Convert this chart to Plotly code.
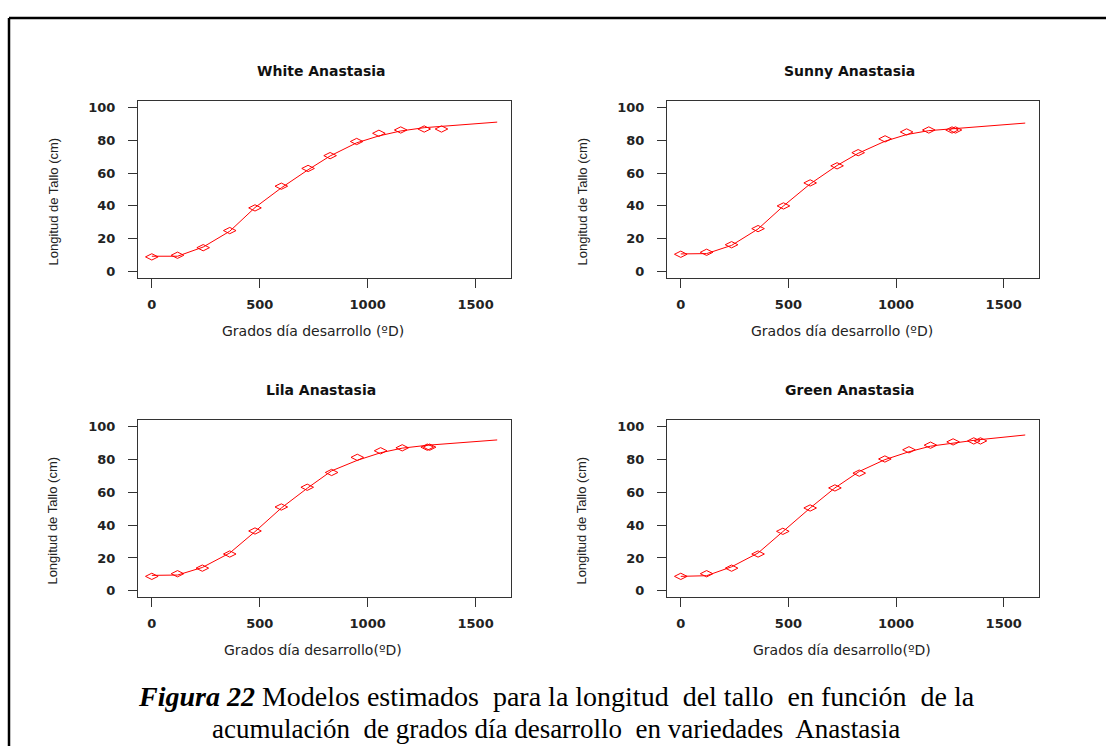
import plotly.graph_objects as go

# ---------------- data ----------------
panel_titles = ["White Anastasia", "Sunny Anastasia", "Lila Anastasia", "Green Anastasia"]
x_titles = ["Grados día desarrollo (ºD)", "Grados día desarrollo (ºD)",
            "Grados día desarrollo(ºD)", "Grados día desarrollo(ºD)"]
y_title = "Longitud de Tallo (cm)"

white_x = [0, 119, 238, 361, 478, 600, 724, 826, 949, 1052, 1153, 1262, 1342]
white_y = [9.0, 10.0, 14.6, 25.0, 38.8, 52.0, 62.8, 70.6, 79.2, 84.2, 86.2, 86.8, 86.8]
white_cx = [0, 119, 238, 361, 478, 600, 724, 826, 949, 1052, 1153, 1262, 1342, 1600]
white_cy = [9.4, 9.4, 15.0, 24.6, 39.0, 51.0, 62.0, 70.4, 78.4, 82.6, 85.6, 87.6, 88.4, 91.0]

sunny_x = [0, 120, 236, 359, 477, 601, 726, 824, 949, 1049, 1152, 1260, 1276]
sunny_y = [10.6, 11.8, 16.4, 26.2, 40.0, 54.0, 64.4, 72.4, 80.8, 85.0, 86.2, 86.2, 86.2]
sunny_cx = [0, 120, 236, 359, 477, 601, 726, 824, 949, 1049, 1152, 1270, 1600]
sunny_cy = [10.8, 11.0, 16.0, 26.0, 40.0, 53.4, 64.6, 72.0, 79.4, 83.4, 85.8, 87.0, 90.4]

lila_x = [0, 119, 234, 361, 478, 600, 720, 833, 952, 1060, 1160, 1276, 1287]
lila_y = [8.8, 10.4, 13.8, 22.4, 36.4, 51.0, 63.0, 72.0, 81.2, 85.2, 87.0, 87.4, 87.4]
lila_cx = [0, 119, 234, 361, 478, 600, 720, 833, 952, 1060, 1160, 1280, 1600]
lila_cy = [9.4, 9.6, 14.2, 23.0, 36.0, 50.4, 62.4, 73.0, 79.4, 84.0, 86.8, 88.6, 91.8]

green_x = [0, 120, 236, 359, 474, 601, 716, 829, 948, 1060, 1160, 1265, 1361, 1392]
green_y = [8.8, 10.4, 13.8, 22.4, 36.2, 50.4, 62.6, 71.6, 80.2, 85.8, 88.6, 90.6, 91.2, 91.2]
green_cx = [0, 120, 236, 359, 474, 601, 716, 829, 948, 1060, 1160, 1265, 1376, 1600]
green_cy = [8.8, 9.2, 14.6, 23.0, 36.0, 50.4, 62.6, 72.6, 79.8, 84.6, 88.0, 90.0, 91.8, 94.8]

x_ticks = [0, 500, 1000, 1500]
y_ticks = [0, 20, 40, 60, 80, 100]

caption_1 = "<b><i>Figura 22</i></b> Modelos estimados  para la longitud  del tallo  en función  de la"
caption_2 = "acumulación  de grados día desarrollo  en variedades  Anastasia"

# ---------------- figure ----------------
W, H = 1106, 746
series = [(white_x, white_y, white_cx, white_cy),
          (sunny_x, sunny_y, sunny_cx, sunny_cy),
          (lila_x, lila_y, lila_cx, lila_cy),
          (green_x, green_y, green_cx, green_cy)]

# pixel boxes of panels: (left, right, top, bottom)
boxes = [(138, 511, 100, 278), (667, 1039, 100, 278),
         (138, 511, 420, 598), (667, 1039, 420, 598)]

fig = go.Figure()
red = "#FF0000"
tick_font = dict(family="DejaVu Sans", size=13, color="#222222", weight="bold")

annotations = []
for i, ((px, py, cx, cy), (l, r, t, b)) in enumerate(zip(series, boxes)):
    n = i + 1
    xa = "x" if n == 1 else f"x{n}"
    ya = "y" if n == 1 else f"y{n}"
    fig.add_trace(go.Scatter(x=cx, y=cy, mode="lines", line=dict(color=red, width=1),
                             xaxis=xa, yaxis=ya, showlegend=False, hoverinfo="skip"))
    fig.add_trace(go.Scatter(x=px, y=py, mode="markers",
                             marker=dict(symbol="diamond-wide-open", size=9,
                                         color=red, line=dict(color=red, width=1)),
                             xaxis=xa, yaxis=ya, showlegend=False))
    xkey = "xaxis" if n == 1 else f"xaxis{n}"
    ykey = "yaxis" if n == 1 else f"yaxis{n}"
    fig.update_layout(**{
        xkey: dict(domain=[l / W, r / W], anchor=ya, range=[-64, 1664],
                   tickvals=x_ticks, ticks="outside", ticklen=9, tickwidth=1,
                   tickcolor="#333333", showline=True, mirror=True,
                   linecolor="#333333", linewidth=1, showgrid=False, zeroline=False,
                   tickfont=tick_font, ticklabelstandoff=5),
        ykey: dict(domain=[1 - b / H, 1 - t / H], anchor=xa, range=[-4, 104],
                   tickvals=y_ticks, ticks="outside", ticklen=9, tickwidth=1,
                   tickcolor="#333333", showline=True, mirror=True,
                   linecolor="#333333", linewidth=1, showgrid=False, zeroline=False,
                   tickfont=tick_font, ticklabelstandoff=10),
    })
    cxp = (l + r) / 2 / W
    # panel title
    annotations.append(dict(text="<b>" + panel_titles[i] + "</b>", x=cxp - 0.003,
                            y=1 - (t - 30) / H, xref="paper", yref="paper",
                            showarrow=False, xanchor="center", yanchor="middle",
                            font=dict(family="DejaVu Sans", size=14, color="#111111")))
    # x title
    annotations.append(dict(text=x_titles[i], x=cxp - 0.01, y=1 - (b + 53) / H,
                            xref="paper", yref="paper", showarrow=False,
                            xanchor="center", yanchor="middle",
                            font=dict(family="DejaVu Sans", size=14, color="#222222")))
    # y title
    annotations.append(dict(text=y_title, x=(l - 85) / W, y=1 - ((t + b) / 2 + 12) / H,
                            xref="paper", yref="paper", showarrow=False, textangle=-90,
                            xanchor="center", yanchor="middle",
                            font=dict(family="Liberation Sans Narrow, Liberation Sans", size=13,
                                      color="#222222")))

annotations.append(dict(text=caption_1, x=0.503, y=1 - 697 / H, xref="paper", yref="paper",
                        showarrow=False, xanchor="center", yanchor="middle",
                        font=dict(family="Liberation Serif", size=28, color="#000000")))
annotations.append(dict(text=caption_2, x=0.503, y=1 - 730 / H, xref="paper", yref="paper",
                        showarrow=False, xanchor="center", yanchor="middle",
                        font=dict(family="Liberation Serif", size=27, color="#000000")))

shapes = [
    dict(type="line", xref="paper", yref="paper", x0=9 / W, x1=1.02, y0=1 - 17 / H, y1=1 - 17 / H,
         line=dict(color="black", width=2.5)),
    dict(type="line", xref="paper", yref="paper", x0=9 / W, x1=9 / W, y0=1 - 17 / H, y1=-0.02,
         line=dict(color="black", width=2.5)),
]

fig.update_layout(width=W, height=H, margin=dict(l=0, r=0, t=0, b=0),
                  paper_bgcolor="white", plot_bgcolor="white",
                  annotations=annotations, shapes=shapes, showlegend=False)

fig.write_html("out.html")
